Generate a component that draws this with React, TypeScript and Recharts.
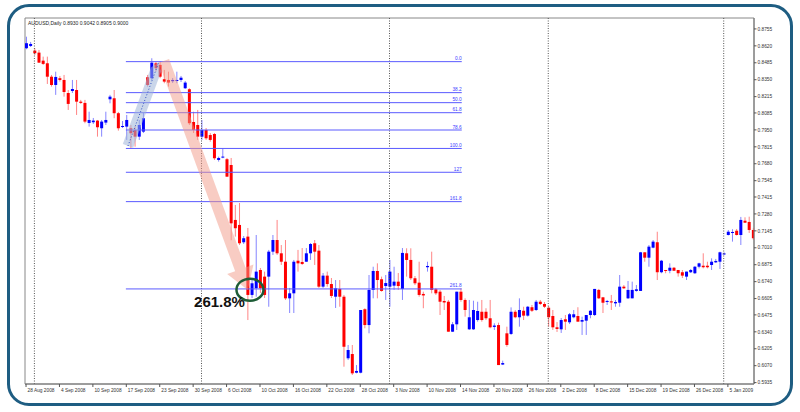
import {
  ComposedChart,
  Bar,
  XAxis,
  YAxis,
  ReferenceLine,
  ReferenceArea,
  ReferenceDot,
} from "recharts";

const FONT = "'Liberation Sans', Arial, sans-serif";

// tick labels, one every 8 bars
const dateLabels = [
  "28 Aug 2008", "4 Sep 2008", "10 Sep 2008", "17 Sep 2008", "23 Sep 2008",
  "30 Sep 2008", "6 Oct 2008", "10 Oct 2008", "16 Oct 2008", "22 Oct 2008",
  "28 Oct 2008", "3 Nov 2008", "10 Nov 2008", "14 Nov 2008", "20 Nov 2008",
  "26 Nov 2008", "2 Dec 2008", "8 Dec 2008", "15 Dec 2008", "19 Dec 2008",
  "26 Dec 2008", "5 Jan 2009",
];
const priceTicks = [
  0.8755, 0.862, 0.8485, 0.835, 0.8215, 0.8085, 0.795, 0.7815, 0.768, 0.7545,
  0.7415, 0.728, 0.7145, 0.701, 0.6875, 0.674, 0.6605, 0.6475, 0.634, 0.6205,
  0.607, 0.5935,
];
const monthStarts = [2, 42, 87, 125, 167];

// AUDUSD daily OHLC
const opens = [
  0.8601, 0.8619, 0.8582, 0.8566, 0.8502, 0.8481, 0.8374, 0.8308, 0.8362, 0.8348,
  0.8244, 0.826, 0.8268, 0.8175, 0.8165, 0.8005, 0.8011, 0.8024, 0.7963, 0.8008,
  0.8194, 0.8202, 0.8083, 0.7973, 0.7976, 0.7963, 0.7949, 0.7896, 0.7936, 0.837,
  0.8362, 0.8481, 0.8468, 0.8354, 0.8348, 0.8338, 0.8343, 0.8348, 0.8282, 0.8274,
  0.8013, 0.7989, 0.7896, 0.7949, 0.7909, 0.7917, 0.771, 0.773, 0.7716, 0.767,
  0.7232, 0.7192, 0.7054, 0.7099, 0.6634, 0.6687, 0.6833, 0.678, 0.678, 0.6979,
  0.7072, 0.6966, 0.6899, 0.6607, 0.6647, 0.6907, 0.6897, 0.6899, 0.6966, 0.7046,
  0.6987, 0.67, 0.6788, 0.6721, 0.662, 0.6682, 0.662, 0.6129, 0.6163, 0.6014,
  0.6014, 0.652, 0.6394, 0.6674, 0.6825, 0.6759, 0.6705, 0.67, 0.6708, 0.674,
  0.6682, 0.6966, 0.6913, 0.6767, 0.6732, 0.6642, 0.6855, 0.6859, 0.6679, 0.666,
  0.6586, 0.658, 0.6341, 0.64, 0.666, 0.6594, 0.636, 0.636, 0.6434, 0.65,
  0.65, 0.6448, 0.6379, 0.6394, 0.6079, 0.6328, 0.6323, 0.65, 0.6456, 0.6508,
  0.6469, 0.6536, 0.6514, 0.658, 0.6562, 0.6532, 0.6466, 0.6376, 0.636, 0.644,
  0.6416, 0.6456, 0.6466, 0.6421, 0.6429, 0.6474, 0.6474, 0.6674, 0.6615, 0.6578,
  0.6583, 0.6567, 0.6572, 0.67, 0.6607, 0.6607, 0.6666, 0.6666, 0.6974, 0.6931,
  0.7011, 0.7054, 0.6815, 0.6833, 0.6827, 0.6851, 0.6833, 0.6815, 0.678, 0.6815,
  0.6807, 0.6859, 0.6867, 0.6867, 0.6873, 0.6894, 0.6899, 0.6957, 0.7112, 0.7128,
  0.7146, 0.7112, 0.7226, 0.7216, 0.7152,
];
const highs = [
  0.8693, 0.8651, 0.8601, 0.8587, 0.8534, 0.8534, 0.8388, 0.8414, 0.838, 0.8388,
  0.8268, 0.8348, 0.8348, 0.8189, 0.8189, 0.8095, 0.8045, 0.8029, 0.8029, 0.8095,
  0.8229, 0.8268, 0.8093, 0.8021, 0.8069, 0.7989, 0.7976, 0.8029, 0.8085, 0.8388,
  0.8521, 0.8494, 0.8494, 0.8428, 0.8414, 0.8364, 0.8414, 0.838, 0.834, 0.8282,
  0.8095, 0.8109, 0.8029, 0.7965, 0.7925, 0.7925, 0.7737, 0.7803, 0.7726, 0.7726,
  0.7351, 0.7367, 0.7104, 0.7168, 0.6753, 0.7112, 0.6849, 0.682, 0.6993, 0.7112,
  0.7232, 0.7032, 0.7072, 0.669, 0.6913, 0.6993, 0.7008, 0.7008, 0.7048, 0.7072,
  0.7032, 0.6809, 0.682, 0.6769, 0.6753, 0.6753, 0.6634, 0.6235, 0.6235, 0.6075,
  0.6514, 0.6528, 0.6793, 0.6859, 0.6886, 0.678, 0.6793, 0.6913, 0.6859, 0.6809,
  0.7008, 0.7006, 0.7006, 0.6785, 0.6899, 0.666, 0.6899, 0.6979, 0.669, 0.6674,
  0.6626, 0.6594, 0.6418, 0.666, 0.6687, 0.6607, 0.6594, 0.6588, 0.658, 0.6594,
  0.6528, 0.6594, 0.6408, 0.6413, 0.611, 0.6381, 0.6535, 0.6514, 0.6607, 0.654,
  0.6546, 0.6554, 0.6594, 0.6594, 0.6578, 0.6546, 0.6514, 0.6418, 0.645, 0.6474,
  0.649, 0.6514, 0.6536, 0.6461, 0.6474, 0.6514, 0.6682, 0.6682, 0.6618, 0.6594,
  0.6634, 0.6594, 0.6793, 0.6713, 0.6745, 0.674, 0.6713, 0.6977, 0.6974, 0.7032,
  0.7072, 0.7138, 0.6913, 0.6833, 0.6886, 0.6857, 0.6833, 0.6833, 0.682, 0.6841,
  0.6865, 0.6891, 0.6966, 0.6899, 0.6926, 0.6921, 0.6979, 0.6974, 0.7152, 0.7158,
  0.716, 0.7256, 0.7253, 0.7258, 0.7168,
];
const lows = [
  0.8593, 0.8611, 0.8547, 0.8484, 0.8468, 0.8316, 0.8295, 0.8229, 0.8335, 0.8215,
  0.8109, 0.8244, 0.8069, 0.8157, 0.8003, 0.7976, 0.7997, 0.7896, 0.7896, 0.7989,
  0.8162, 0.8043, 0.7944, 0.7965, 0.787, 0.7803, 0.7816, 0.787, 0.7925, 0.8295,
  0.8348, 0.8414, 0.8362, 0.8322, 0.8295, 0.8324, 0.8322, 0.8332, 0.8276, 0.7989,
  0.7925, 0.787, 0.787, 0.787, 0.7856, 0.771, 0.7697, 0.7724, 0.7575, 0.707,
  0.7099, 0.7032, 0.704, 0.6434, 0.661, 0.662, 0.665, 0.661, 0.654, 0.6953,
  0.6953, 0.6873, 0.6594, 0.649, 0.649, 0.682, 0.6873, 0.6897, 0.6913, 0.6873,
  0.669, 0.669, 0.67, 0.661, 0.653, 0.654, 0.6062, 0.6115, 0.5996, 0.6009,
  0.6009, 0.6368, 0.6328, 0.6607, 0.6607, 0.666, 0.6594, 0.654, 0.6674, 0.6674,
  0.6594, 0.678, 0.6753, 0.6713, 0.662, 0.6528, 0.682, 0.6647, 0.6634, 0.6474,
  0.6514, 0.6341, 0.6339, 0.6355, 0.658, 0.6461, 0.6355, 0.6355, 0.6421, 0.6421,
  0.6434, 0.6368, 0.6355, 0.6075, 0.6075, 0.6221, 0.6315, 0.6448, 0.6381, 0.6434,
  0.6461, 0.6498, 0.6506, 0.6554, 0.653, 0.6381, 0.6355, 0.6339, 0.6331, 0.6355,
  0.6402, 0.6448, 0.6421, 0.6315, 0.6315, 0.6448, 0.6466, 0.6602, 0.649, 0.6554,
  0.6514, 0.654, 0.654, 0.6682, 0.6602, 0.6607, 0.666, 0.6666, 0.6899, 0.6859,
  0.7006, 0.6753, 0.6807, 0.6807, 0.6807, 0.6825, 0.678, 0.6769, 0.6753, 0.6809,
  0.6801, 0.6846, 0.6846, 0.6846, 0.6833, 0.6889, 0.6841, 0.6953, 0.7108, 0.7059,
  0.7108, 0.7032, 0.7208, 0.7128, 0.7072,
];
const closes = [
  0.8641, 0.8635, 0.8561, 0.8486, 0.8476, 0.8374, 0.8308, 0.8372, 0.8348, 0.8252,
  0.8157, 0.8276, 0.8175, 0.8165, 0.8016, 0.8029, 0.8024, 0.7971, 0.8016, 0.8029,
  0.8215, 0.8083, 0.7963, 0.7981, 0.8029, 0.7923, 0.7896, 0.7989, 0.8043, 0.8308,
  0.8486, 0.8441, 0.8374, 0.8335, 0.8327, 0.8348, 0.8348, 0.8366, 0.8327, 0.8003,
  0.7949, 0.7896, 0.7949, 0.7883, 0.787, 0.7724, 0.7726, 0.7737, 0.7577, 0.7205,
  0.7166, 0.7046, 0.7086, 0.6634, 0.6727, 0.682, 0.6687, 0.6634, 0.6979, 0.7072,
  0.6966, 0.6899, 0.6607, 0.6647, 0.6899, 0.6886, 0.6881, 0.6966, 0.704, 0.6979,
  0.67, 0.6788, 0.6721, 0.6626, 0.6687, 0.662, 0.6221, 0.6195, 0.6009, 0.6028,
  0.6514, 0.6394, 0.6674, 0.6825, 0.6753, 0.6666, 0.6729, 0.682, 0.674, 0.6705,
  0.6969, 0.6913, 0.6767, 0.6727, 0.6634, 0.663, 0.6865, 0.6674, 0.6647, 0.658,
  0.6574, 0.6341, 0.64, 0.666, 0.6594, 0.6514, 0.6456, 0.6514, 0.6506, 0.6434,
  0.6448, 0.6376, 0.639, 0.6075, 0.6091, 0.6235, 0.65, 0.6456, 0.6514, 0.6469,
  0.654, 0.6508, 0.658, 0.6562, 0.654, 0.6456, 0.6376, 0.6363, 0.6434, 0.6421,
  0.648, 0.648, 0.6421, 0.6434, 0.6474, 0.6508, 0.6682, 0.6607, 0.6572, 0.6586,
  0.6574, 0.6578, 0.67, 0.6687, 0.6674, 0.6674, 0.6679, 0.6974, 0.6931, 0.7019,
  0.7059, 0.6815, 0.6907, 0.6825, 0.6851, 0.6827, 0.6807, 0.6788, 0.682, 0.6833,
  0.6859, 0.6886, 0.6855, 0.6855, 0.6899, 0.6905, 0.6974, 0.6965, 0.7138, 0.7136,
  0.7112, 0.7232, 0.721, 0.7152, 0.7086,
];

// Fibonacci levels drawn on the chart
const fibNames = ["0.0", "38.2", "50.0", "61.8", "78.6", "100.0", "127", "161.8", "261.8"];
const fibPrices = [0.8494, 0.8247, 0.8167, 0.8087, 0.7949, 0.7802, 0.7612, 0.7378, 0.6682];
const fibStart = 23.9;
const fibEnd = 104.3;

// arrows and the circled target, in bar index / price units
const upArrow = { i1: 24.4, p1: 0.7822, i2: 31.8, p2: 0.8492 };
const downArrow = { i1: 33.0, p1: 0.85, i2: 53.1, p2: 0.6674 };
const target = { i: 53.6, p: 0.6676, text: "261.8%" };

const title = "AUDUSD,Daily  0.8930 0.9042 0.8905 0.9000";

const data = opens.map((open, i) => ({
  i,
  open,
  high: highs[i],
  low: lows[i],
  close: closes[i],
  range: [lows[i], highs[i]],
}));

const xMin = -0.25;
const xMax = 174.25;
const yMin = 0.5924;
const yMax = 0.8842;

function Candle(props: any) {
  const { x, width, payload } = props;
  let { y, height } = props;
  if (height < 0) {
    y = y + height;
    height = -height;
  }
  const { open, close, high, low } = payload;
  const up = close >= open;
  const cx = x + width / 2;
  const span = high - low;
  const py = (v: number) => (span > 0 ? y + ((high - v) / span) * height : y);
  const top = py(Math.max(open, close));
  const bottom = py(Math.min(open, close));
  return (
    <g>
      <line x1={cx} x2={cx} y1={y} y2={y + height} stroke={up ? "#8585ff" : "#ff8585"} strokeWidth={1} />
      <rect x={x} y={top} width={width} height={Math.max(bottom - top, 1)} fill={up ? "#0000ff" : "#ff0000"} />
    </g>
  );
}

function DateTick(props: any) {
  const { x, y, payload } = props;
  const label = dateLabels[Math.round(payload.value / 8)];
  return (
    <g>
      <line x1={x} x2={x} y1={y} y2={y + 3} stroke="#555" strokeWidth={1} />
      <text x={x + 1.5} y={y + 7.5} fontSize={4.8} fontFamily={FONT} fill="#333">
        {label}
      </text>
    </g>
  );
}

function PriceTick(props: any) {
  const { x, y, payload } = props;
  return (
    <g>
      <line x1={x} x2={x + 2.5} y1={y} y2={y} stroke="#555" strokeWidth={1} />
      <text x={x + 3.5} y={y + 1.7} fontSize={4.8} fontFamily={FONT} fill="#333">
        {Number(payload.value).toFixed(4)}
      </text>
    </g>
  );
}

function arrowPath(x1: number, y1: number, x2: number, y2: number, shaft: number, head: number, headLen: number) {
  const dx = x2 - x1;
  const dy = y2 - y1;
  const len = Math.hypot(dx, dy) || 1;
  const ux = dx / len;
  const uy = dy / len;
  const nx = -uy;
  const ny = ux;
  const bx = x2 - ux * headLen;
  const by = y2 - uy * headLen;
  const pts = [
    [x1 + nx * shaft, y1 + ny * shaft],
    [bx + nx * shaft, by + ny * shaft],
    [bx + nx * head, by + ny * head],
    [x2, y2],
    [bx - nx * head, by - ny * head],
    [bx - nx * shaft, by - ny * shaft],
    [x1 - nx * shaft, y1 - ny * shaft],
  ];
  return pts.map((p) => p.join(",")).join(" ");
}

function UpArrowShape(props: any) {
  const { x1, y1, x2, y2 } = props;
  return (
    <g>
      <polygon points={arrowPath(x1, y1, x2, y2, 5.5, 5.5, 8)} fill="#9fb4d8" fillOpacity={0.55} />
      <line x1={x1} y1={y1} x2={x2} y2={y2} stroke="#3050c0" strokeWidth={1} strokeDasharray="1 2" />
    </g>
  );
}

function DownArrowShape(props: any) {
  const { x1, y1, x2, y2 } = props;
  return <polygon points={arrowPath(x1, y1, x2, y2, 5.5, 14, 22)} fill="#f29a88" fillOpacity={0.5} />;
}

function TargetShape(props: any) {
  const { cx, cy } = props;
  return (
    <g>
      <ellipse cx={cx} cy={cy} rx={13.5} ry={11} fill="none" stroke="#1d5c36" strokeWidth={2.5} />
      <text x={cx - 5} y={cy + 17} textAnchor="end" fontSize={15} fontWeight="bold" fontFamily={FONT} fill="#111">
        {target.text}
      </text>
    </g>
  );
}

export default function App() {
  return (
    <div style={{ position: "absolute", left: 0, top: 0, width: 800, height: 412, background: "#fff" }}>
      <div
        style={{
          position: "absolute",
          left: 7,
          top: 4,
          width: 786,
          height: 402,
          boxSizing: "border-box",
          border: "3px solid #1e5d82",
          borderRadius: 22,
        }}
      />
      <div style={{ position: "absolute", left: 0, top: 0 }}>
        <ComposedChart
          width={800}
          height={412}
          data={data}
          margin={{ top: 18, right: 6, bottom: 6, left: 25 }}
        >
          <XAxis
            dataKey="i"
            type="number"
            domain={[xMin, xMax]}
            allowDataOverflow
            ticks={dateLabels.map((_, j) => j * 8)}
            interval={0}
            tick={<DateTick />}
            tickLine={false}
            tickSize={0}
            tickMargin={0}
            height={22}
            axisLine={{ stroke: "#777" }}
          />
          <YAxis
            orientation="right"
            type="number"
            domain={[yMin, yMax]}
            allowDataOverflow
            ticks={priceTicks}
            interval={0}
            tick={<PriceTick />}
            tickLine={false}
            tickSize={0}
            tickMargin={0}
            width={40}
            axisLine={{ stroke: "#777" }}
          />
          <ReferenceArea
            x1={xMin}
            x2={xMax}
            y1={yMin}
            y2={yMax}
            fill="none"
            stroke="#888"
            strokeWidth={1}
            ifOverflow="visible"
            label={(p: any) => (
              <text
                x={p.viewBox.x + 3}
                y={p.viewBox.y + 7}
                fontSize={5}
                fontFamily={FONT}
                fill="#222"
              >
                {title}
              </text>
            )}
          />
          {monthStarts.map((m) => (
            <ReferenceLine key={m} x={m} stroke="#555" strokeDasharray="1 1.5" strokeWidth={1} />
          ))}
          {fibPrices.map((p, j) => (
            <ReferenceLine
              key={fibNames[j]}
              segment={[
                { x: fibStart, y: p },
                { x: fibEnd, y: p },
              ]}
              stroke="#5a5aff"
              strokeWidth={1}
              label={(lp: any) => (
                <text
                  x={lp.viewBox.x + lp.viewBox.width}
                  y={lp.viewBox.y - 1.5}
                  textAnchor="end"
                  fontSize={4.8}
                  fontFamily={FONT}
                  fill="#4040ff"
                >
                  {fibNames[j]}
                </text>
              )}
            />
          ))}
          <ReferenceLine
            segment={[
              { x: upArrow.i1, y: upArrow.p1 },
              { x: upArrow.i2, y: upArrow.p2 },
            ]}
            shape={(p: any) => <UpArrowShape {...p} />}
          />
          <ReferenceLine
            segment={[
              { x: downArrow.i1, y: downArrow.p1 },
              { x: downArrow.i2, y: downArrow.p2 },
            ]}
            shape={(p: any) => <DownArrowShape {...p} />}
          />
          <Bar dataKey="range" barSize={3} shape={<Candle />} isAnimationActive={false} />
          <ReferenceDot x={target.i} y={target.p} r={12} shape={(p: any) => <TargetShape {...p} />} />
        </ComposedChart>
      </div>
    </div>
  );
}
